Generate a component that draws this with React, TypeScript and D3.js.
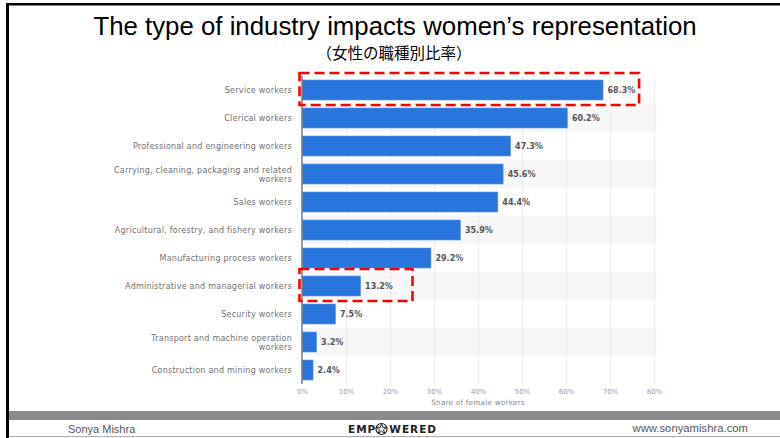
import React from "react";
import * as d3 from "d3";

const categories = [
  "Service workers",
  "Clerical workers",
  "Professional and engineering workers",
  "Carrying, cleaning, packaging and related workers",
  "Sales workers",
  "Agricultural, forestry, and fishery workers",
  "Manufacturing process workers",
  "Administrative and managerial workers",
  "Security workers",
  "Transport and machine operation workers",
  "Construction and mining workers",
];
const labelLines: string[][] = [
  ["Service workers"],
  ["Clerical workers"],
  ["Professional and engineering workers"],
  ["Carrying, cleaning, packaging and related", "workers"],
  ["Sales workers"],
  ["Agricultural, forestry, and fishery workers"],
  ["Manufacturing process workers"],
  ["Administrative and managerial workers"],
  ["Security workers"],
  ["Transport and machine operation", "workers"],
  ["Construction and mining workers"],
];
const values = [68.3, 60.2, 47.3, 45.6, 44.4, 35.9, 29.2, 13.2, 7.5, 3.2, 2.4];
const ticks = [0, 10, 20, 30, 40, 50, 60, 70, 80];
const highlighted = ["Service workers", "Administrative and managerial workers"];
const highlightExtent = [76.5, 25];

const W = 780;
const H = 438;

export default function App() {
  const x = d3.scaleLinear().domain([0, 80]).range([302.5, 654.5]);
  const y = d3.scaleBand<string>().domain(categories).range([76, 384]).padding(0);
  const bh = 20;
  const labelFont = "'DejaVu Sans', Verdana, sans-serif";
  const star = d3.symbol().type(d3.symbolStar).size(34)();

  return (
    <svg width={W} height={H} style={{ position: "absolute", left: 0, top: 0, background: "#fff" }}>
      <rect x={0} y={0} width={W} height={H} fill="#fff" />
      {/* frame */}
      <rect x={6} y={3} width={W - 6} height={2.5} fill="#000" />
      <rect x={6} y={3} width={3} height={H - 3} fill="#000" />

      {/* title */}
      <text x={395} y={34.5} textAnchor="middle" fontFamily="'Liberation Sans', Arial, sans-serif" fontSize={25.8} fill="#000">
        The type of industry impacts women’s representation
      </text>
      <text x={394} y={58.5} textAnchor="middle" fontFamily="'Noto Sans CJK JP', sans-serif" fontSize={15.5} fill="#000">
        （女性の職種別比率）
      </text>

      {/* stripes */}
      {categories.map((c, i) =>
        i % 2 === 1 ? (
          <rect key={"s" + c} x={x(0)} y={y(c)!} width={x(80) - x(0) + 2} height={y.bandwidth()} fill="#f7f7f7" />
        ) : null
      )}
      {/* grid */}
      {ticks.slice(1).map((t) => (
        <line key={"g" + t} x1={x(t)} x2={x(t)} y1={76} y2={384} stroke="#e6e6e6" strokeWidth={1} strokeDasharray="3,1" />
      ))}

      {/* bars */}
      {categories.map((c, i) => (
        <g key={"b" + c}>
          <rect
            x={x(0)}
            y={y(c)! + (y.bandwidth() - bh) / 2}
            width={x(values[i]) - x(0)}
            height={bh}
            fill="#2876dd"
            stroke="#5b9be8"
            strokeWidth={0.6}
          />
          <text
            x={x(values[i]) + 4.5}
            y={y(c)! + y.bandwidth() / 2 + 3}
            fontFamily={labelFont}
            fontSize={8}
            fontWeight="bold"
            fill="#555"
          >
            {values[i].toFixed(1)}%
          </text>
        </g>
      ))}

      {/* y axis line */}
      <line x1={x(0) - 0.5} x2={x(0) - 0.5} y1={76} y2={384} stroke="#666" strokeWidth={1.3} />

      {/* category labels */}
      {categories.map((c, i) => {
        const lines = labelLines[i];
        const cy = y(c)! + y.bandwidth() / 2;
        const startY = cy + 3.3 - ((lines.length - 1) * 9) / 2;
        return (
          <text key={"l" + c} x={292} textAnchor="end" fontFamily={labelFont} fontSize={8} fill="#707070" letterSpacing={0.25}>
            {lines.map((ln, j) => (
              <tspan key={j} x={292} y={startY + j * 9}>
                {ln}
              </tspan>
            ))}
          </text>
        );
      })}

      {/* x tick labels */}
      {ticks.map((t) => (
        <text key={"t" + t} x={x(t)} y={394} textAnchor="middle" fontFamily={labelFont} fontSize={7} fill="#9a9a9a">
          {t}%
        </text>
      ))}
      <text x={478} y={405} textAnchor="middle" fontFamily={labelFont} fontSize={7.3} fill="#888" letterSpacing={0.2}>
        Share of female workers
      </text>

      {/* highlight boxes */}
      {highlighted.map((c, i) => (
        <rect
          key={"h" + c}
          x={299.5}
          y={y(c)! - 3}
          width={x(highlightExtent[i]) - 299.5}
          height={y.bandwidth() + 4}
          fill="none"
          stroke="#ff0000"
          strokeWidth={2.6}
          strokeDasharray="10,5"
        />
      ))}

      {/* footer */}
      <rect x={9} y={411} width={W - 9} height={9} fill="#8a8a8a" />
      <line x1={9} x2={W} y1={436.5} y2={436.5} stroke="#aaa" strokeWidth={1} />
      <text x={68} y={433} fontFamily="'Liberation Sans', Arial, sans-serif" fontSize={11} fill="#555">
        Sonya Mishra
      </text>
      <text x={748} y={432} textAnchor="end" fontFamily="'Liberation Sans', Arial, sans-serif" fontSize={11.3} fill="#555">
        www.sonyamishra.com
      </text>
      <text x={348} y={433} fontFamily="'DejaVu Sans', sans-serif" fontWeight="bold" fontSize={10.5} fill="#222" letterSpacing={1}>
        EMP
        <tspan dx={13}>WERED</tspan>
      </text>
      <g transform="translate(381.5,429)">
        <circle r={5.5} fill="none" stroke="#222" strokeWidth={1.2} />
        <path d={star!} fill="none" stroke="#222" strokeWidth={1} />
      </g>
    </svg>
  );
}
